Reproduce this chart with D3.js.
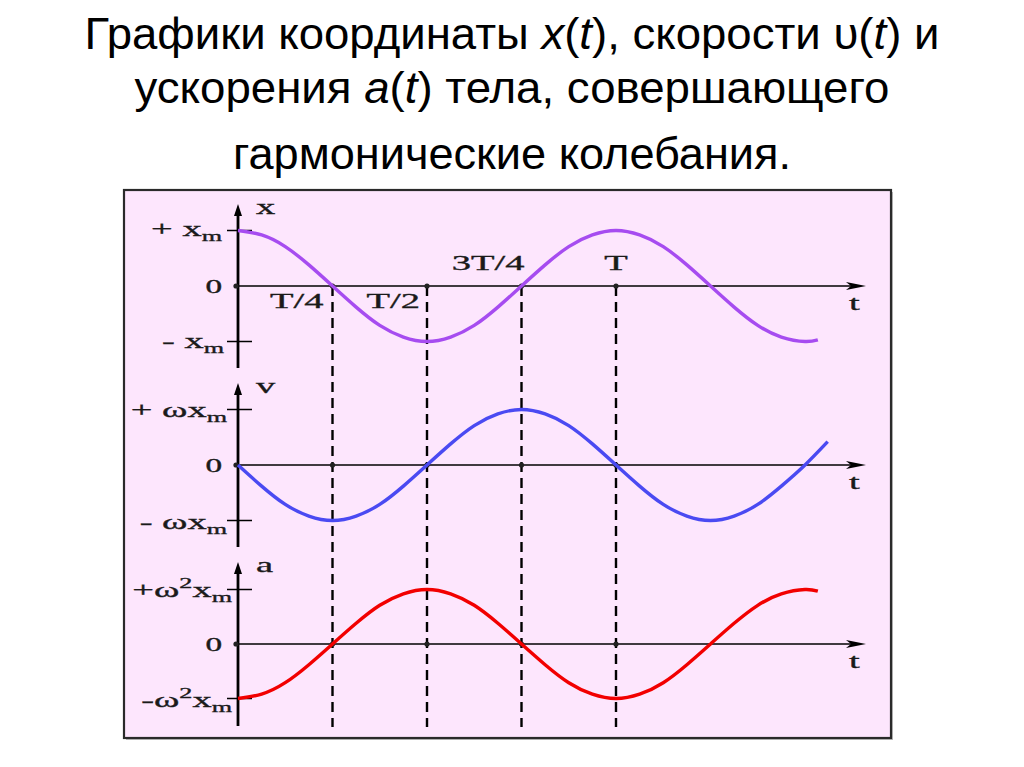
<!DOCTYPE html>
<html><head><meta charset="utf-8">
<script src="https://cdn.jsdelivr.net/npm/d3@7"></script>
<style>body{margin:0;background:#fff}</style>
</head><body>
<svg id="c" width="1024" height="767"></svg>
<script>
// ---------- data ----------
// Title lines (segments: [text, italic?])
const titleLine1 = [["Графики координаты ",0],["x",1],["(",0],["t",1],["), скорости ",0],["υ",0],["(",0],["t",1],[") и",0]];
const titleLine2 = [["ускорения ",0],["a",1],["(",0],["t",1],[") тела, совершающего",0]];
const titleLine3 = [["гармонические колебания.",0]];

// time samples in units of the period T
const gridT = [0,0.0625,0.125,0.1875,0.25,0.3125,0.375,0.4375,0.5,0.5625,0.625,0.6875,0.75,0.8125,0.875,0.9375,1,1.0625,1.125,1.1875,1.25,1.3125,1.375,1.4375,1.5];
const xTimes = gridT.concat([1.534]);
const vTimes = gridT.concat([1.56]);
const aTimes = gridT.concat([1.534]);
// values in units of the amplitude
const xValues = [1,0.92,0.71,0.38,0,-0.38,-0.71,-0.92,-1,-0.92,-0.71,-0.38,0,0.38,0.71,0.92,1,0.92,0.71,0.38,0,-0.38,-0.71,-0.92,-1,-0.97];
const vValues = [0,-0.38,-0.71,-0.92,-1,-0.92,-0.71,-0.38,0,0.38,0.71,0.92,1,0.92,0.71,0.38,0,-0.38,-0.71,-0.92,-1,-0.92,-0.71,-0.38,0,0.42];
const aValues = [-1,-0.92,-0.71,-0.38,0,0.38,0.71,0.92,1,0.92,0.71,0.38,0,-0.38,-0.71,-0.92,-1,-0.92,-0.71,-0.38,0,0.38,0.71,0.92,1,0.97];

const tickPhases = [0.25,0.5,0.75,1];
const tickLabels = ["T/4","T/2","3T/4","T"];
const axisNames = ["x","v","a"];
const posLabels = [
  [["+ x",0],["m","sub"]],
  [["+ ωx",0],["m","sub"]],
  [["+ω",0],["2","sup"],["x",0],["m","sub"]]
];
const negLabels = [
  [["- x",0],["m","sub"]],
  [["- ωx",0],["m","sub"]],
  [["-ω",0],["2","sup"],["x",0],["m","sub"]]
];
const zeroLabel = "0";
const timeLabel = "t";

// ---------- drawing ----------
const svg = d3.select("#c");
const SANS = "'Liberation Sans Narrow','Arial Narrow','Liberation Sans',Arial,sans-serif";
const SERIF = "'Liberation Serif','Times New Roman',serif";
const SX = 1.75;

// title
[[titleLine1,49,855],[titleLine2,103,755],[titleLine3,169,558]].forEach(([segs,y,len])=>{
  const t = svg.append("text").attr("x",512).attr("y",y).attr("text-anchor","middle")
    .attr("font-family",SANS).attr("font-size",45).attr("fill","#000")
    .attr("transform",`translate(512,0) scale(0.93,1) translate(-512,0)`);
  segs.forEach(([s,it])=>t.append("tspan").attr("font-style",it?"italic":"normal").text(s));
  const w = t.node().getComputedTextLength()*0.93;
  const k = len/w;
  t.attr("transform",`translate(512,0) scale(${0.93*k},1) translate(-512,0)`);
});

// frame
svg.append("rect").attr("x",126).attr("y",192).attr("width",767).attr("height",548).attr("fill","#bbb");
svg.append("rect").attr("x",124).attr("y",190).attr("width",767).attr("height",548)
  .attr("fill","#fde6fd").attr("stroke","#2a2a2a").attr("stroke-width",2.2);

const xScale = d3.scaleLinear().domain([0,1]).range([238,616]);
const panels = [
  {y0:286, amp:55.5, color:"#a64cf0", times:xTimes, values:xValues},
  {y0:465, amp:55.5, color:"#4a4af2", times:vTimes, values:vValues},
  {y0:644, amp:54.5, color:"#f20000", times:aTimes, values:aValues}
];

function label(x,y,anchor,parts,size){
  const t = svg.append("g").attr("transform",`translate(${x},${y}) scale(${SX},1)`)
    .append("text").attr("text-anchor",anchor).attr("font-family",SERIF)
    .attr("font-size",size).attr("fill","#1a1a1a").attr("stroke","#1a1a1a").attr("stroke-width",0.35);
  let cur = 0;
  parts.forEach(([s,k])=>{
    const target = k==="sub"?5:k==="sup"?-9:0;
    t.append("tspan").attr("dy",target-cur).attr("font-size",k?size*0.68:size).text(s);
    cur = target;
  });
}

// dashed guides
const dashTop = panels[0].y0, dashBottom = 727;
tickPhases.forEach(p=>{
  svg.append("line").attr("x1",xScale(p)).attr("x2",xScale(p)).attr("y1",dashTop).attr("y2",dashBottom)
    .attr("stroke","#000").attr("stroke-width",2.4).attr("stroke-dasharray","10,6");
});

const x0 = xScale(0), xEnd = 866;
panels.forEach((P,i)=>{
  const y = d3.scaleLinear().domain([-1,1]).range([P.y0+P.amp,P.y0-P.amp]);
  // horizontal axis
  svg.append("line").attr("x1",x0-3).attr("x2",xEnd-8).attr("y1",y(0)).attr("y2",y(0))
    .attr("stroke","#000").attr("stroke-width",1.5);
  svg.append("path").attr("d",`M${xEnd},${y(0)} L${xEnd-20},${y(0)-4} L${xEnd-15},${y(0)} L${xEnd-20},${y(0)+4} Z`).attr("fill","#000");
  // vertical axis
  const top = P.y0-82, bot = P.y0+82;
  svg.append("line").attr("x1",x0).attr("x2",x0).attr("y1",top+6).attr("y2",bot)
    .attr("stroke","#000").attr("stroke-width",2.8);
  svg.append("path").attr("d",`M${x0},${top} L${x0-4},${top+12} L${x0+4},${top+12} Z`).attr("fill","#000");
  // amplitude ticks
  [1,-1].forEach(v=>svg.append("line").attr("x1",x0-11).attr("x2",x0+14).attr("y1",y(v)).attr("y2",y(v))
    .attr("stroke","#000").attr("stroke-width",1.5));
  // dots on zero line
  [0].concat(tickPhases).forEach(p=>svg.append("circle").attr("cx",xScale(p)-(p===0?2:0)).attr("cy",y(0)).attr("r",2.6).attr("fill","#222"));
  // curve
  const line = d3.line().x((d,j)=>xScale(P.times[j])).y(d=>y(d)).curve(d3.curveNatural);
  svg.append("path").attr("d",line(P.values)).attr("fill","none").attr("stroke",P.color).attr("stroke-width",3.4);
  // labels
  label(x0+18, P.y0-72, "start", [[axisNames[i],0]], 22);
  label(i===2?232:(i===1?227:222), y(1)+(i===0?5:7), "end", posLabels[i], 22);
  label(i===2?232:(i===1?227:224), y(-1)+(i===0?6:8), "end", negLabels[i], 22);
  label(222, P.y0+7, "end", [[zeroLabel,0]], 19);
  label(849, P.y0+24, "start", [[timeLabel,0]], 22);
});

// period labels on the first panel
const y0 = panels[0].y0;
label(xScale(0.25)-9, y0+22, "end", [[tickLabels[0],0]], 22);
label(xScale(0.5)-7, y0+22, "end", [[tickLabels[1],0]], 22);
label(xScale(0.75)+3, y0-16, "end", [[tickLabels[2],0]], 22);
label(xScale(1), y0-16, "middle", [[tickLabels[3],0]], 22);
</script>
</body></html>
